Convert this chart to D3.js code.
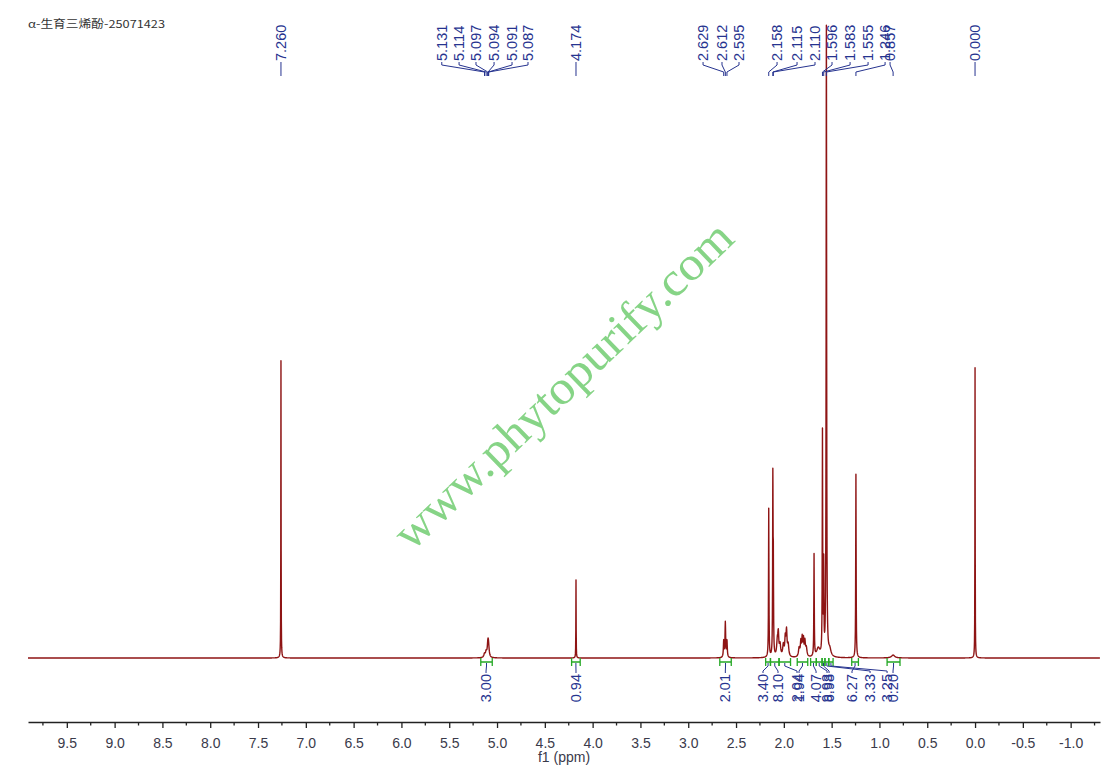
<!DOCTYPE html>
<html><head><meta charset="utf-8">
<script src="https://cdn.jsdelivr.net/npm/d3@7"></script>
<style>body{margin:0;background:#fff}svg{display:block}</style>
</head><body><svg id="c" width="1113" height="775"></svg>
<script>
// ---------- data ----------
const titleText = "α-生育三烯酚-25071423";
const watermark = "www.phytopurify.com";

// peak list: position (ppm), height (intensity units), half width (ppm)
const peakPpm    = [7.260, 5.131, 5.114, 5.097, 5.094, 5.091, 5.087, 4.174, 2.629, 2.612, 2.595,
                    2.158, 2.115, 2.110, 2.068, 2.058, 2.040, 2.005, 1.985, 1.972, 1.955,
                    1.840, 1.822, 1.808, 1.795, 1.780, 1.765, 1.684, 1.640, 1.596, 1.583, 1.555,
                    1.520, 1.246, 0.857, 0.000];
const peakHeight = [51.0, 0.6, 0.9, 1.1, 1.1, 1.0, 0.8, 13.4, 2.8, 6.0, 2.8,
                    25.5, 29.5, 14.0, 2.5, 3.5, 2.0, 2.0, 3.0, 4.2, 2.0,
                    1.5, 2.5, 3.0, 2.8, 2.5, 1.5, 17.5, 1.5, 38.0, 15.0, 108.0,
                    1.2, 31.5, 0.5, 49.8];
const peakHwhm   = [0.0015, 0.008, 0.008, 0.007, 0.007, 0.007, 0.007, 0.0015, 0.004, 0.004, 0.004,
                    0.0025, 0.0025, 0.0025, 0.008, 0.006, 0.008, 0.008, 0.006, 0.006, 0.008,
                    0.008, 0.006, 0.005, 0.005, 0.006, 0.008, 0.0025, 0.02, 0.0025, 0.0025, 0.003,
                    0.015, 0.0025, 0.02, 0.0015];

// chemical shift labels on top
const shiftLabels   = ["7.260", "5.131", "5.114", "5.097", "5.094", "5.091", "5.087", "4.174",
                       "2.629", "2.612", "2.595", "2.158", "2.115", "2.110",
                       "1.596", "1.583", "1.555", "1.246", "0.857", "0.000"];
const shiftPpm      = [7.260, 5.131, 5.114, 5.097, 5.094, 5.091, 5.087, 4.174,
                       2.629, 2.612, 2.595, 2.158, 2.115, 2.110,
                       1.596, 1.583, 1.555, 1.246, 0.857, 0.000];
const shiftLabelPpm = [7.260, 5.578, 5.397, 5.220, 5.031, 4.843, 4.676, 4.174,
                       2.845, 2.647, 2.469, 2.071, 1.862, 1.674,
                       1.496, 1.307, 1.119, 0.941, 0.889, 0.000];

// integrals
const integFrom     = [5.17, 4.22, 2.67, 2.19, 2.14, 2.05, 1.86, 1.72, 1.66, 1.60, 1.57, 1.53, 1.29, 0.92];
const integTo       = [5.05, 4.13, 2.55, 2.14, 2.05, 1.93, 1.75, 1.66, 1.60, 1.57, 1.53, 1.485, 1.22, 0.785];
const integValues   = ["3.00", "0.94", "2.01", "3.40", "8.10", "2.04", "1.94", "4.07", "9.93", "6.98", "3.33", "3.25", "6.27", "0.20"];
const integLabelPpm = [5.115, 4.174, 2.612, 2.218, 2.061, 1.862, 1.841, 1.663, 1.548, 1.527, 1.098, 0.920, 1.287, 0.858];

// axis
const tickValues = [9.5, 9.0, 8.5, 8.0, 7.5, 7.0, 6.5, 6.0, 5.5, 5.0, 4.5, 4.0, 3.5, 3.0, 2.5, 2.0, 1.5, 1.0, 0.5, 0.0, -0.5, -1.0];
const tickLabels = ["9.5","9.0","8.5","8.0","7.5","7.0","6.5","6.0","5.5","5.0","4.5","4.0","3.5","3.0","2.5","2.0","1.5","1.0","0.5","0.0","-0.5","-1.0"];
const minorTicks = [9.75, 9.25, 8.75, 8.25, 7.75, 7.25, 6.75, 6.25, 5.75, 5.25, 4.75, 4.25, 3.75, 3.25, 2.75, 2.25, 1.75, 1.25, 0.75, 0.25, -0.25, -0.75, -1.25];
const axisTitle = "f1 (ppm)";

// ---------- drawing ----------
const svg = d3.select("#c");
const W = 1113, H = 775;
svg.append("rect").attr("width", W).attr("height", H).attr("fill", "#fff");

const x = d3.scaleLinear().domain([9.906, -1.307]).range([28, 1100]);
const y = d3.scaleLinear().domain([0, 100]).range([658, 75]);

const navy = "#26338f";
const font = "'Liberation Sans', Arial, sans-serif";

// watermark
svg.append("text")
  .attr("transform", "translate(564,386) rotate(-43.8)")
  .attr("text-anchor", "middle")
  .attr("dy", "0.3em")
  .attr("font-family", "'Liberation Serif', 'Times New Roman', serif")
  .attr("font-size", 48)
  .attr("textLength", 450)
  .attr("lengthAdjust", "spacingAndGlyphs")
  .attr("fill", "#86d486")
  .text(watermark);

// title
svg.append("text").attr("x", 28).attr("y", 28)
  .attr("font-family", "'Noto Sans CJK SC', sans-serif").attr("font-size", 11)
  .attr("textLength", 137).attr("lengthAdjust", "spacingAndGlyphs")
  .attr("fill", "#333").text(titleText);

// spectrum
const grid = d3.range(9.906, -1.307, -0.002).concat(peakPpm).sort((a, b) => b - a);
const spec = grid.map(p => {
  let v = 0;
  for (let i = 0; i < peakPpm.length; i++) {
    const d = (p - peakPpm[i]) / peakHwhm[i];
    v += peakHeight[i] / (1 + d * d);
  }
  return { p, v };
});
svg.append("path").datum(spec)
  .attr("fill", "none").attr("stroke", "#8e1414").attr("stroke-width", 1.4)
  .attr("stroke-linejoin", "round")
  .attr("d", d3.line().x(d => x(d.p)).y(d => y(d.v)));

// shift labels
const sg = svg.append("g");
shiftLabels.forEach((lab, i) => {
  const lx = x(shiftLabelPpm[i]), px = x(shiftPpm[i]);
  sg.append("path")
    .attr("d", `M${lx},62 L${lx},65 L${px},72 L${px},76`)
    .attr("fill", "none").attr("stroke", navy).attr("stroke-width", 1);
  sg.append("text")
    .attr("transform", `translate(${lx},61) rotate(-90)`)
    .attr("text-anchor", "start").attr("dominant-baseline", "central")
    .attr("font-family", font).attr("font-size", 14.5).attr("fill", navy)
    .text(lab);
});

// integrals
const ig = svg.append("g");
integValues.forEach((val, i) => {
  const x1 = x(integFrom[i]), x2 = x(integTo[i]);
  const cx = (x1 + x2) / 2, lx = x(integLabelPpm[i]);
  ig.append("path")
    .attr("d", `M${x1},658 L${x1},666 M${x1},662 L${x2},662 M${x2},658 L${x2},666`)
    .attr("fill", "none").attr("stroke", "#25a825").attr("stroke-width", 1.3);
  ig.append("path")
    .attr("d", `M${cx},663 L${cx},666 L${lx},671 L${lx},673`)
    .attr("fill", "none").attr("stroke", navy).attr("stroke-width", 1);
  ig.append("text")
    .attr("transform", `translate(${lx},674) rotate(-90)`)
    .attr("text-anchor", "end").attr("dominant-baseline", "central")
    .attr("font-family", font).attr("font-size", 14.5).attr("fill", navy)
    .text(val);
});

// axis
const axis = d3.axisBottom(x)
  .tickValues(tickValues)
  .tickFormat((d, i) => tickLabels[i])
  .tickSize(6).tickSizeOuter(0).tickPadding(10);
const ag = svg.append("g").attr("transform", "translate(0,722)").call(axis);
ag.select(".domain").attr("stroke", "#222").attr("stroke-width", 1.3);
ag.selectAll(".tick line").attr("stroke", "#222").attr("stroke-width", 1.3);
ag.selectAll(".tick text").attr("font-family", font).attr("font-size", 14).attr("fill", "#3a3a4a");
const mg = svg.append("g").attr("transform", "translate(0,722)");
mg.selectAll("line").data(minorTicks).join("line")
  .attr("x1", d => x(d)).attr("x2", d => x(d)).attr("y1", 0).attr("y2", 3.5)
  .attr("stroke", "#222").attr("stroke-width", 1.3);

svg.append("text").attr("x", 564).attr("y", 762).attr("text-anchor", "middle")
  .attr("font-family", font).attr("font-size", 14).attr("fill", "#3a3a4a").text(axisTitle);
</script></body></html>
